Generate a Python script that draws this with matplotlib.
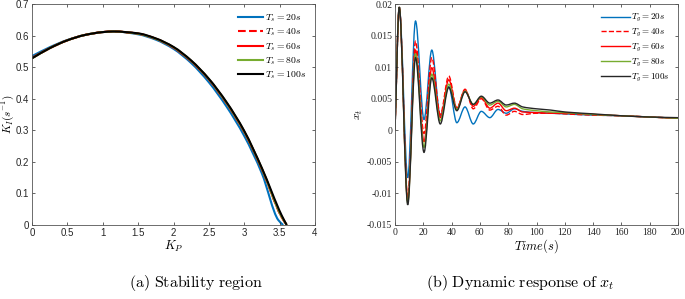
import numpy as np
import matplotlib
matplotlib.use("Agg")
import matplotlib.pyplot as plt
from matplotlib.path import Path
from matplotlib.patches import PathPatch
from matplotlib.lines import Line2D

plt.rcParams['mathtext.fontset'] = 'cm'

# ---------------- data: (a) stability region ----------------
kp_20 = [0.0, 0.25, 0.5, 0.75, 1.0, 1.15, 1.5, 1.75, 2.0, 2.25, 2.5, 2.75, 3.0, 3.25, 3.48, 3.55]
ki_20 = [0.535, 0.563, 0.586, 0.602, 0.611, 0.613, 0.604, 0.587, 0.558, 0.513, 0.452, 0.375, 0.282, 0.163, 0.016, 0.0]
kp_40 = [0.0, 0.25, 0.5, 0.75, 1.0, 1.15, 1.5, 1.75, 2.0, 2.25, 2.5, 2.75, 3.0, 3.25, 3.52, 3.6]
ki_40 = [0.529, 0.560, 0.585, 0.602, 0.611, 0.613, 0.606, 0.590, 0.562, 0.519, 0.461, 0.386, 0.295, 0.177, 0.029, 0.0]
kp_60 = [0.0, 0.25, 0.5, 0.75, 1.0, 1.15, 1.5, 1.75, 2.0, 2.25, 2.5, 2.75, 3.0, 3.25, 3.52, 3.6]
ki_60 = [0.529, 0.560, 0.585, 0.602, 0.611, 0.613, 0.606, 0.590, 0.562, 0.519, 0.461, 0.386, 0.295, 0.177, 0.029, 0.0]
kp_80 = [0.0, 0.25, 0.5, 0.75, 1.0, 1.15, 1.5, 1.75, 2.0, 2.25, 2.5, 2.75, 3.0, 3.25, 3.52, 3.6]
ki_80 = [0.528, 0.560, 0.585, 0.602, 0.611, 0.613, 0.606, 0.590, 0.563, 0.520, 0.462, 0.387, 0.296, 0.178, 0.030, 0.0]
kp_100 = [0.0, 0.25, 0.5, 0.75, 1.0, 1.15, 1.5, 1.75, 2.0, 2.25, 2.5, 2.75, 3.0, 3.25, 3.53, 3.6]
ki_100 = [0.528, 0.560, 0.585, 0.602, 0.611, 0.613, 0.607, 0.591, 0.564, 0.521, 0.463, 0.389, 0.298, 0.180, 0.030, 0.0]

labels_a = [r'$T_s=20s$', r'$T_s=40s$', r'$T_s=60s$', r'$T_s=80s$', r'$T_s=100s$']

# ---------------- data: (b) dynamic response ----------------
t = [0, 3, 9, 14.5, 20.5, 26, 32, 38, 43.7, 49.5, 55.3, 61, 67, 72.8, 78.6, 84.4, 90.2,
     100, 110, 120, 140, 160, 180, 200]
x_20 = [0, 0.0195, -0.0075, 0.0173, 0.0017, 0.0127, 0.0023, 0.0069, 0.0012, 0.0037, 0.0010,
        0.0030, 0.0020, 0.0033, 0.0027, 0.0034, 0.0030,
        0.0028, 0.0027, 0.0026, 0.0024, 0.0023, 0.0021, 0.0019]
x_40 = [0, 0.0195, -0.0105, 0.0141, -0.0005, 0.0115, 0.0025, 0.0086, 0.0035, 0.0065, 0.0034,
        0.0050, 0.0032, 0.0038, 0.0024, 0.0030, 0.0025,
        0.0027, 0.0027, 0.0026, 0.0024, 0.0023, 0.0021, 0.0019]
x_60 = [0, 0.0195, -0.0112, 0.0127, -0.0018, 0.0099, 0.0020, 0.0080, 0.0035, 0.0064, 0.0038,
        0.0052, 0.0035, 0.0043, 0.0031, 0.0035, 0.0029,
        0.0028, 0.0027, 0.0027, 0.0025, 0.0023, 0.0021, 0.0019]
x_80 = [0, 0.0195, -0.0115, 0.0121, -0.0027, 0.0089, 0.0015, 0.0073, 0.0033, 0.0062, 0.0041,
        0.0053, 0.0040, 0.0046, 0.0037, 0.0041, 0.0034,
        0.0031, 0.0029, 0.0028, 0.0025, 0.0023, 0.0021, 0.0019]
x_100 = [0, 0.0195, -0.0118, 0.0115, -0.0035, 0.0083, 0.0010, 0.0068, 0.0031, 0.0061, 0.0041,
         0.0054, 0.0043, 0.0048, 0.0040, 0.0043, 0.0037,
         0.0034, 0.0032, 0.0029, 0.0026, 0.0023, 0.0021, 0.0020]

labels_b = [r'$T_g=20s$', r'$T_g=40s$', r'$T_g=60s$', r'$T_g=80s$', r'$T_g=100s$']

colors = ['#0072BD', '#FF0000', '#FF0000', '#77AC30', '#000000']
styles = ['-', '--', '-', '-', '-']


def smooth_patch(ax, x, y, **kw):
    """Draw a shape-preserving smooth curve through the data points using
    cubic Bezier segments (rendering only)."""
    x = np.asarray(x, float)
    y = np.asarray(y, float)
    h = np.diff(x)
    d = np.diff(y) / h
    n = len(x)
    m = np.zeros(n)
    m[0] = d[0]
    m[-1] = d[-1]
    for i in range(1, n - 1):
        if d[i - 1] * d[i] <= 0:
            m[i] = 0.0
        else:
            w1 = 2 * h[i] + h[i - 1]
            w2 = h[i] + 2 * h[i - 1]
            m[i] = (w1 + w2) / (w1 / d[i - 1] + w2 / d[i])
    verts = [(x[0], y[0])]
    codes = [Path.MOVETO]
    for i in range(n - 1):
        verts += [(x[i] + h[i] / 3, y[i] + m[i] * h[i] / 3),
                  (x[i + 1] - h[i] / 3, y[i + 1] - m[i + 1] * h[i] / 3),
                  (x[i + 1], y[i + 1])]
        codes += [Path.CURVE4] * 3
    p = PathPatch(Path(verts, codes), facecolor='none', **kw)
    ax.add_patch(p)
    return p


fig = plt.figure(figsize=(6.85, 2.99), dpi=100)
ax1 = fig.add_axes([32 / 685, 1 - 225 / 299, 283 / 685, 221 / 299])
ax2 = fig.add_axes([395 / 685, 1 - 225 / 299, 283 / 685, 221 / 299])

axcol = '#262626'

# ---- (a)
series_a = [(kp_20, ki_20), (kp_40, ki_40), (kp_60, ki_60), (kp_80, ki_80), (kp_100, ki_100)]
handles = []
for (xx, yy), c, ls, lab in zip(series_a, colors, styles, labels_a):
    smooth_patch(ax1, xx, yy, edgecolor=c, linestyle=ls, linewidth=1.5, capstyle='butt')
    handles.append(Line2D([], [], color=c, ls=ls, lw=1.5, label=lab))
ax1.set_xlim(0, 4)
ax1.set_ylim(0, 0.7)
ax1.set_xticks(np.arange(0, 4.01, 0.5))
ax1.set_xticklabels(['0', '0.5', '1', '1.5', '2', '2.5', '3', '3.5', '4'])
ax1.set_yticks(np.arange(0, 0.71, 0.1))
ax1.set_yticklabels(['0', '0.1', '0.2', '0.3', '0.4', '0.5', '0.6', '0.7'])
ax1.set_xlabel(r'$K_P$', fontsize=9, labelpad=1)
ax1.set_ylabel(r'$K_I(s^{-1})$', fontsize=8)
ax1.yaxis.set_label_coords(-0.056, 0.5)
leg1 = ax1.legend(handles=handles, loc='upper right', frameon=False, fontsize=7,
                  handlelength=2.6, handletextpad=0.2, labelspacing=0.25,
                  borderaxespad=0.5)

# ---- (b)
series_b = [x_20, x_40, x_60, x_80, x_100]
handles = []
for yy, c, ls, lab in zip(series_b, colors, styles, labels_b):
    cc = '#262626' if c == '#000000' else c
    smooth_patch(ax2, t, yy, edgecolor=cc, linestyle=ls, linewidth=1.0, capstyle='butt')
    handles.append(Line2D([], [], color=cc, ls=ls, lw=1.0, label=lab))
ax2.set_xlim(0, 200)
ax2.set_ylim(-0.015, 0.02)
ax2.set_xticks(np.arange(0, 201, 20))
ax2.set_yticks([-0.015, -0.01, -0.005, 0, 0.005, 0.01, 0.015, 0.02])
ax2.set_yticklabels(['-0.015', '-0.01', '-0.005', '0', '0.005', '0.01', '0.015', '0.02'])
ax2.set_xlabel(r'$Time(s)$', fontsize=9, labelpad=0)
ax2.set_ylabel(r'$x_t$', fontsize=8.5)
ax2.yaxis.set_label_coords(-0.105, 0.5)
leg2 = ax2.legend(handles=handles, loc='upper right', frameon=False, fontsize=6.5,
                  handlelength=3.2, handletextpad=0.2, labelspacing=0.3,
                  borderaxespad=0.5)

for ax, fam, fs in [(ax1, 'Liberation Sans', 7), (ax2, 'Liberation Serif', 7)]:
    ax.tick_params(direction='in', top=True, right=True, length=2.5, width=0.5,
                   colors=axcol, labelsize=fs, pad=2)
    for lab in ax.get_xticklabels() + ax.get_yticklabels():
        lab.set_family(fam)
    for s in ax.spines.values():
        s.set_linewidth(0.6)
        s.set_color('#555555')

fig.text(196 / 685, 1 - 283 / 299, r'$\mathrm{(a)\ Stability\ region}$', ha='center',
         va='center', fontsize=11.5)
fig.text(520 / 685, 1 - 283 / 299, r'$\mathrm{(b)\ Dynamic\ response\ of\ }x_t$',
         ha='center', va='center', fontsize=11.5)

fig.savefig('out.png', dpi=100)
